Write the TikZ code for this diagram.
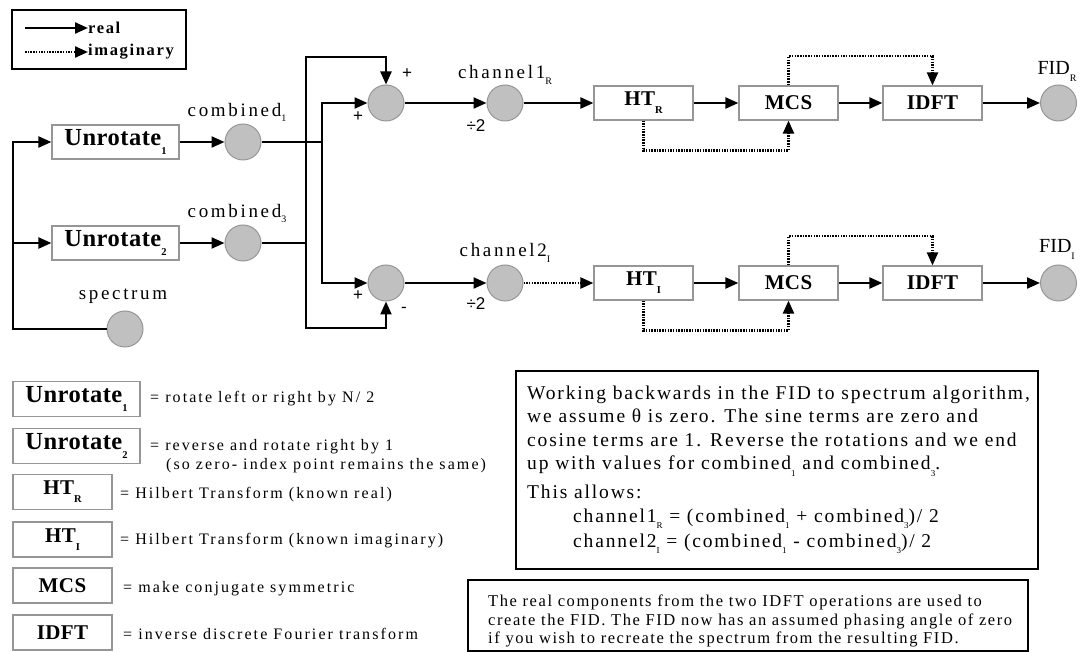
\documentclass[tikz,border=0pt]{standalone}
\usepackage{fontspec}
\setmainfont{Liberation Serif}
\newfontfamily\txt{Liberation Serif}[LetterSpace=14]
\newfontfamily\boxtf{Liberation Serif}[LetterSpace=9.5]
\newfontfamily\notef{Liberation Serif}[LetterSpace=9.5]
\newfontfamily\legf{Liberation Serif}[LetterSpace=13]
\newfontfamily\bx{Liberation Serif}[LetterSpace=2]
\newfontfamily\legbf{Liberation Serif}[LetterSpace=10]
\newfontfamily\sansf{Liberation Sans}
\usetikzlibrary{arrows.meta}
\definecolor{cfill}{RGB}{192,192,192}
\definecolor{cline}{RGB}{150,150,150}
\definecolor{bline}{RGB}{150,150,150}
\newcommand\subs[3][-5pt]{\raisebox{#1}{\fontsize{#2}{#2}\selectfont #3}}
\begin{document}
\begin{tikzpicture}[x=1pt,y=-1pt,
  proc/.style={draw=bline, line width=1.2pt, fill=white, minimum height=34pt, inner sep=0pt, font=\bx\bfseries\fontsize{21}{21}\selectfont},
  widebox/.style={proc, minimum width=127pt, font=\bx\bfseries\fontsize{24.5}{24.5}\selectfont},
  narrowbox/.style={proc, minimum width=99pt},
  dot/.style={circle, draw=cline, line width=1pt, fill=cfill, minimum size=36pt, inner sep=0pt},
  lab/.style={font=\txt\fontsize{19}{19}\selectfont, inner sep=0pt},
  sign/.style={font=\sansf\fontsize{17}{17}\selectfont, inner sep=0pt},
  legtxt/.style={font=\legf\fontsize{16}{16}\selectfont, inner sep=0pt, anchor=base west},
  boxtxt/.style={font=\boxtf\fontsize{19.5}{19.5}\selectfont, inner sep=0pt, anchor=base west},
  notetxt/.style={font=\notef\fontsize{16.5}{16.5}\selectfont, inner sep=0pt, anchor=base west},
  ln/.style={line width=2.2pt},
  arr/.style={line width=2.2pt, -{Triangle[length=13pt,width=11pt]}},
  imarr/.style={arr, dash pattern=on 1.5pt off 1.2pt},
  frame/.style={draw=black, line width=2.2pt}
]
\useasboundingbox (0,0) rectangle (1080,652);

% ---------- top-left legend ----------
\draw[frame] (12,10) rectangle (186,69);
\coordinate (r0) at (25,28);
\coordinate (i0) at (25,52);
\node[font=\legbf\bfseries\fontsize{16.5}{16.5}\selectfont, inner sep=0pt, anchor=west] (rl) at (88,28) {real};
\node[font=\legbf\bfseries\fontsize{16.5}{16.5}\selectfont, inner sep=0pt, anchor=west] (il) at (88,52) {imaginary};
\draw[arr] (r0) -- (rl.west);
\draw[imarr] (i0) -- (il.west);

% ---------- flow nodes ----------
\node[widebox] (u1) at (115.5,142) {Unrotate\subs[-9pt]{10.5}{1}};
\node[widebox] (u2) at (115.5,243) {Unrotate\subs[-9pt]{10.5}{2}};
\node[dot] (c1) at (243,142) {};
\node[dot] (c3) at (243,243) {};
\node[dot] (sp) at (125,329) {};
\node[dot] (s1) at (386,103) {};
\node[dot] (s2) at (386,283) {};
\node[dot] (ch1) at (505,103) {};
\node[dot] (ch2) at (505,283) {};
\node[narrowbox] (htr) at (643.5,103) {HT\subs[-8pt]{10.5}{R}};
\node[narrowbox] (mcs1) at (788.5,103) {MCS};
\node[narrowbox] (idft1) at (932.5,103) {IDFT};
\node[dot] (fid1) at (1058.5,103) {};
\node[narrowbox] (hti) at (643.5,283) {HT\subs[-8pt]{10.5}{I}};
\node[narrowbox] (mcs2) at (788.5,283) {MCS};
\node[narrowbox] (idft2) at (932.5,283) {IDFT};
\node[dot] (fid2) at (1058.5,283) {};

% ---------- labels ----------
\node[lab] (lc1) at (237,112) {combined\subs[-5pt]{10}{1}};
\node[lab] (lc3) at (237,213) {combined\subs[-5pt]{10}{3}};
\node[lab] (lsp) at (123,296) {spectrum};
\node[lab] (lch1) at (505,75) {channel1\subs[-6pt]{10}{R}};
\node[lab] (lch2) at (505,253) {channel2\subs[-6pt]{10}{I}};
\node[sign] (d1) at (476,126) {÷2};
\node[sign] (d2) at (476,304) {÷2};
\node[sign] (p1) at (407,74) {+};
\node[sign] (p2) at (358,117) {+};
\node[sign] (p3) at (358,296) {+};
\node[sign] (m1) at (404,310) {-};
\node[font=\fontsize{20}{20}\selectfont, inner sep=0pt] (lf1) at (1057,71) {FID\subs[-7pt]{10}{R}};
\node[font=\fontsize{20}{20}\selectfont, inner sep=0pt] (lf2) at (1057,249) {FID\subs[-7pt]{10}{I}};

% ---------- connectors ----------
\coordinate (j2) at (13,243);
\coordinate (j3) at (13,329);
\draw[ln] (sp.west) -- (j3) -- (j2);
\draw[arr] (j2) |- (u1.west);
\draw[arr] (j2) -- (u2.west);
\draw[arr] (u1) -- (c1);
\draw[arr] (u2) -- (c3);

\coordinate (jA) at (322,142);
\coordinate (jB) at (306,243);
\coordinate (tB) at (306,57);
\coordinate (bB) at (306,328);
\draw[ln] (c1.east) -- (jA);
\draw[ln] (c3.east) -- (jB);
\draw[arr] (jA) |- (s1.west);
\draw[arr] (jA) |- (s2.west);
\draw[arr] (jB) -- (tB) -| (s1.north);
\draw[arr] (jB) -- (bB) -| (s2.south);

\draw[arr] (s1) -- (ch1);
\draw[arr] (ch1) -- (htr);
\draw[arr] (htr) -- (mcs1);
\draw[arr] (mcs1) -- (idft1);
\draw[arr] (idft1) -- (fid1);
\draw[imarr] (htr.south) -- ++(0,30) -| (mcs1.south);
\draw[imarr] (mcs1.north) -- ++(0,-29) -| (idft1.north);

\draw[arr] (s2) -- (ch2);
\draw[imarr] (ch2) -- (hti);
\draw[arr] (hti) -- (mcs2);
\draw[arr] (mcs2) -- (idft2);
\draw[arr] (idft2) -- (fid2);
\draw[imarr] (hti.south) -- ++(0,30) -| (mcs2.south);
\draw[imarr] (mcs2.north) -- ++(0,-29) -| (idft2.north);

% ---------- bottom legend ----------
\node[proc, minimum height=35pt, minimum width=127pt, font=\bx\bfseries\fontsize{24.5}{24.5}\selectfont] (k1) at (76.5,399) {Unrotate\subs[-9pt]{10.5}{1}};
\node[proc, minimum height=35pt, minimum width=127pt, font=\bx\bfseries\fontsize{24.5}{24.5}\selectfont] (k2) at (76.5,446) {Unrotate\subs[-9pt]{10.5}{2}};
\node[proc, minimum height=35pt, minimum width=99pt] (k3) at (62.5,492) {HT\subs[-8pt]{10.5}{R}};
\node[proc, minimum height=35pt, minimum width=99pt] (k4) at (62.5,539.5) {HT\subs[-8pt]{10.5}{I}};
\node[proc, minimum height=35pt, minimum width=99pt] (k5) at (62.5,585.5) {MCS};
\node[proc, minimum height=35pt, minimum width=99pt] (k6) at (62.5,632.5) {IDFT};
\node[legtxt] (t1) at (150,403) {= rotate left or right by N/ 2};
\node[legtxt] (t2) at (150,450) {= reverse and rotate right by 1};
\node[legtxt] (t2b) at (166,469) {(so zero- index point remains the same)};
\node[legtxt] (t3) at (120,498) {= Hilbert Transform (known real)};
\node[legtxt] (t4) at (120,544) {= Hilbert Transform (known imaginary)};
\node[legtxt] (t5) at (123,592) {= make conjugate symmetric};
\node[legtxt] (t6) at (123,639) {= inverse discrete Fourier transform};

% ---------- text boxes ----------
\draw[frame] (516,371) rectangle (1038,569);
\node[boxtxt] (b1) at (527,400) {Working backwards in the FID to spectrum algorithm,};
\node[boxtxt] (b2) at (527,423) {we assume θ is zero. The sine terms are zero and};
\node[boxtxt] (b3) at (527,447) {cosine terms are 1. Reverse the rotations and we end};
\node[boxtxt] (b4) at (527,470) {up with values for combined\subs[-6pt]{9}{1} and combined\subs[-6pt]{9}{3}.};
\node[boxtxt] (b5) at (527,498) {This allows:};
\node[boxtxt] (b6) at (573,522) {channel1\subs[-6pt]{9}{R} = (combined\subs[-6pt]{9}{1} + combined\subs[-6pt]{9}{3})/ 2};
\node[boxtxt] (b7) at (573,547) {channel2\subs[-6pt]{9}{I} = (combined\subs[-6pt]{9}{1} - combined\subs[-6pt]{9}{3})/ 2};

\draw[frame] (468,580) rectangle (1028,651);
\node[notetxt] (n1) at (488,606) {The real components from the two IDFT operations  are used to};
\node[notetxt] (n2) at (488,625) {create the FID. The FID now has an assumed phasing angle of zero};
\node[notetxt] (n3) at (488,643) {if you wish to recreate the spectrum from the resulting FID.};
\end{tikzpicture}
\end{document}
